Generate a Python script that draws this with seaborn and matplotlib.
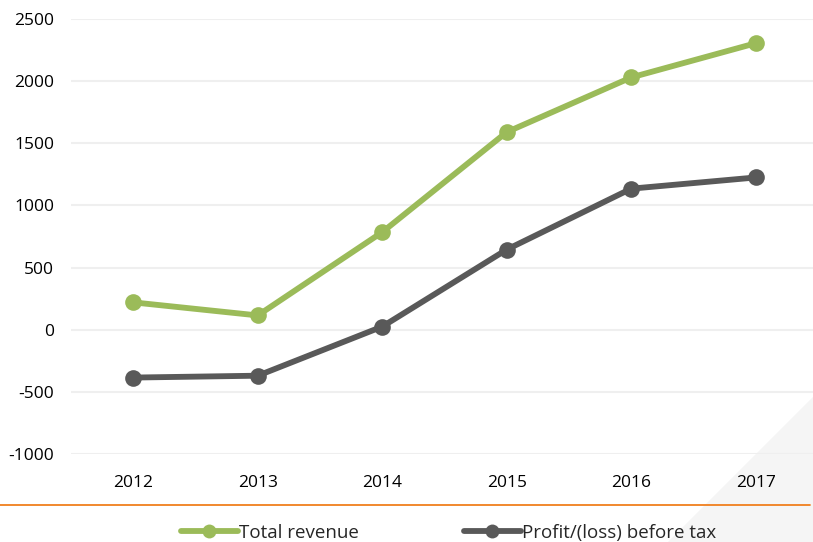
import matplotlib
matplotlib.use('Agg')
import matplotlib.pyplot as plt
import pandas as pd
import seaborn as sns
from matplotlib.patches import Polygon
from matplotlib.lines import Line2D

years = ['2012', '2013', '2014', '2015', '2016', '2017']
total_revenue = [220, 115, 785, 1590, 2030, 2305]
profit_before_tax = [-385, -370, 25, 645, 1135, 1225]
series_names = ['Total revenue', 'Profit/(loss) before tax']
series_colors = ['#9BBB59', '#595959']
y_ticks = [-1000, -500, 0, 500, 1000, 1500, 2000, 2500]

df = pd.DataFrame({
    'year': years * 2,
    'value': total_revenue + profit_before_tax,
    'series': [series_names[0]] * len(years) + [series_names[1]] * len(years),
})

sns.set_theme(style='white')
plt.rcParams['font.family'] = ['Open Sans', 'DejaVu Sans']

fig = plt.figure(figsize=(8.13, 5.42), dpi=100)
fig.patch.set_facecolor('white')

# faint decorative corner
W, H = 813, 542
tri = Polygon([(813 / W, (H - 397) / H), (1, 0), (668 / W, 0)],
              closed=True, transform=fig.transFigure,
              facecolor='#F5F5F5', edgecolor='none', zorder=-1)
fig.patches.append(tri)

ax = fig.add_axes([71 / W, (H - 454) / H, (818 - 71) / W, (454 - 19) / H])
ax.set_facecolor('none')
ax.set_zorder(2)

sns.lineplot(data=df, x='year', y='value', hue='series', palette=series_colors,
             hue_order=series_names, sort=False, marker='o', markersize=12,
             markeredgewidth=0, linewidth=4.2, legend=False, ax=ax, zorder=3)

ax.set_xlim(-0.5, len(years) - 0.5)
ax.set_ylim(-1000, 2500)
ax.set_yticks(y_ticks)
ax.set_yticklabels([str(v) for v in y_ticks])
ax.set_xlabel('')
ax.set_ylabel('')
ax.grid(axis='y', color='#EFEFEF', linewidth=1.5)
ax.set_axisbelow(True)
ax.tick_params(axis='both', length=0, labelsize=12.5, colors='#000000')
ax.tick_params(axis='y', pad=12)
ax.tick_params(axis='x', pad=15)
for s in ax.spines.values():
    s.set_visible(False)

# orange separator line
fig.add_artist(Line2D([0, 810 / W], [(H - 505) / H] * 2, transform=fig.transFigure,
                      color='#F07F1E', linewidth=1.3, zorder=3))

handles = [Line2D([0], [0], color=c, linewidth=4.2, marker='o', markersize=10,
                  markeredgewidth=0) for c in series_colors]
leg = fig.legend(handles, series_names, loc='center', bbox_to_anchor=(449 / W, (H - 533) / H),
                 ncol=2, frameon=False, fontsize=13.5, handlelength=3.0, handletextpad=0.1,
                 columnspacing=5.6)
leg.set_zorder(3)

fig.savefig('out.png', dpi=100)
plt.close(fig)
